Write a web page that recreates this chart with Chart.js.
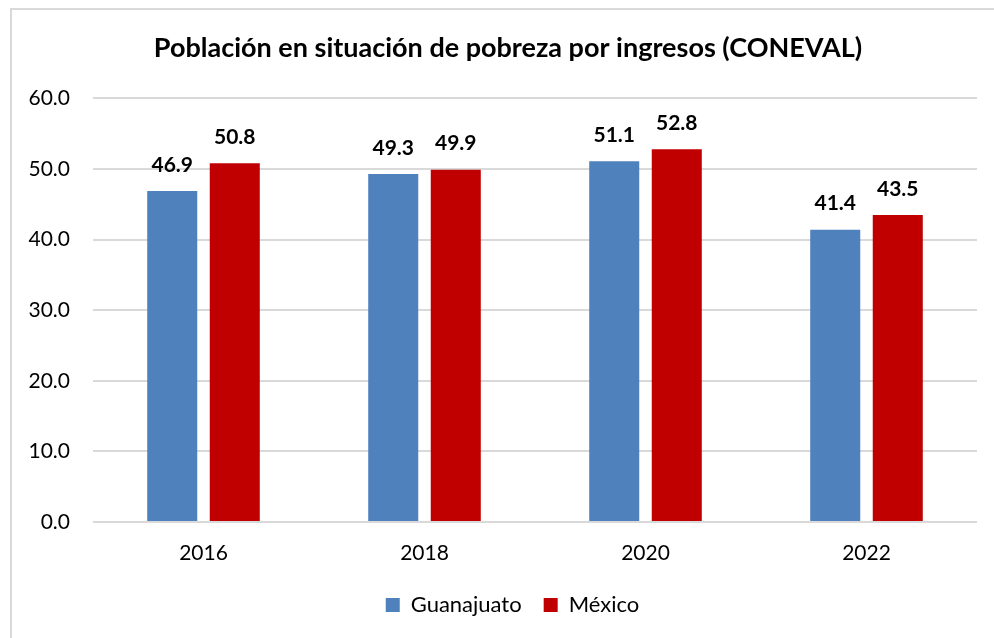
<!DOCTYPE html>
<html>
<head>
<meta charset="utf-8">
<script src="https://cdn.jsdelivr.net/npm/chart.js@4/dist/chart.umd.min.js"></script>
<style>
  html, body { margin: 0; padding: 0; background: #fff; overflow: hidden; }
  #frame {
    position: absolute; left: 10px; top: 8px; width: 1100px; height: 800px;
    border-left: 2px solid #d9d9d9; border-top: 2px solid #d9d9d9;
  }
  #chart { position: absolute; left: 0; top: 0; }
</style>
</head>
<body>
<div id="frame"></div>
<canvas id="chart" width="994" height="638"></canvas>
<script>
// Chart data
const years = ['2016', '2018', '2020', '2022'];
const guanajuato = [46.9, 49.3, 51.1, 41.4];
const mexico = [50.8, 49.9, 52.8, 43.5];
const yMin = 0, yMax = 60, yStep = 10;

const FONT = 'Lato, "Open Sans", sans-serif';

// Draws the bold value above every bar
const valueLabels = {
    id: 'valueLabels',
    afterDatasetsDraw(chart) {
        const ctx = chart.ctx;
        ctx.save();
        ctx.font = 'bold 21px ' + FONT;
        ctx.fillStyle = '#000';
        ctx.textAlign = 'center';
        ctx.textBaseline = 'middle';
        chart.data.datasets.forEach((ds, i) => {
            chart.getDatasetMeta(i).data.forEach((bar, j) => {
                ctx.fillText(ds.data[j].toFixed(1), bar.x, bar.y - 26);
            });
        });
        ctx.restore();
    }
};

// Title and legend sit a bit right of the canvas centre in the original
const shiftBlocks = {
    id: 'shiftBlocks',
    afterLayout(chart) {
        if (chart.titleBlock) chart.titleBlock.left = 39;
        if (chart.legend) chart.legend.left = 48;
    }
};

new Chart(document.getElementById('chart'), {
    type: 'bar',
    data: {
        labels: years,
        datasets: [
            { label: 'Guanajuato', data: guanajuato, backgroundColor: '#4F81BD' },
            { label: 'México', data: mexico, backgroundColor: '#C00000' }
        ]
    },
    options: {
        responsive: false,
        animation: false,
        devicePixelRatio: 1,
        categoryPercentage: 0.566,
        barPercentage: 0.8,
        layout: { padding: { left: 0, right: 17, top: 32, bottom: 12 } },
        plugins: {
            title: {
                display: true,
                text: 'Población en situación de pobreza por ingresos (CONEVAL)',
                color: '#000',
                font: { family: FONT, size: 27, weight: 'bold' },
                padding: { top: 0, bottom: 34 }
            },
            legend: {
                position: 'bottom',
                labels: {
                    color: '#000',
                    font: { family: FONT, size: 22 },
                    boxWidth: 14,
                    boxHeight: 14,
                    padding: 22
                }
            },
            tooltip: { enabled: false }
        },
        scales: {
            x: {
                afterFit(scale) { scale.height = 50; },
                grid: { display: false, drawTicks: false },
                border: { display: false },
                ticks: { color: '#000', font: { family: FONT, size: 21 }, padding: 19 }
            },
            y: {
                min: yMin,
                max: yMax,
                afterFit(scale) { scale.width = 93; },
                grid: { color: '#d9d9d9', lineWidth: 2, drawTicks: false },
                border: { display: false },
                ticks: {
                    stepSize: yStep,
                    color: '#000',
                    font: { family: FONT, size: 21 },
                    padding: 23,
                    callback: v => v.toFixed(1)
                }
            }
        }
    },
    plugins: [valueLabels, shiftBlocks]
});
</script>
</body>
</html>
